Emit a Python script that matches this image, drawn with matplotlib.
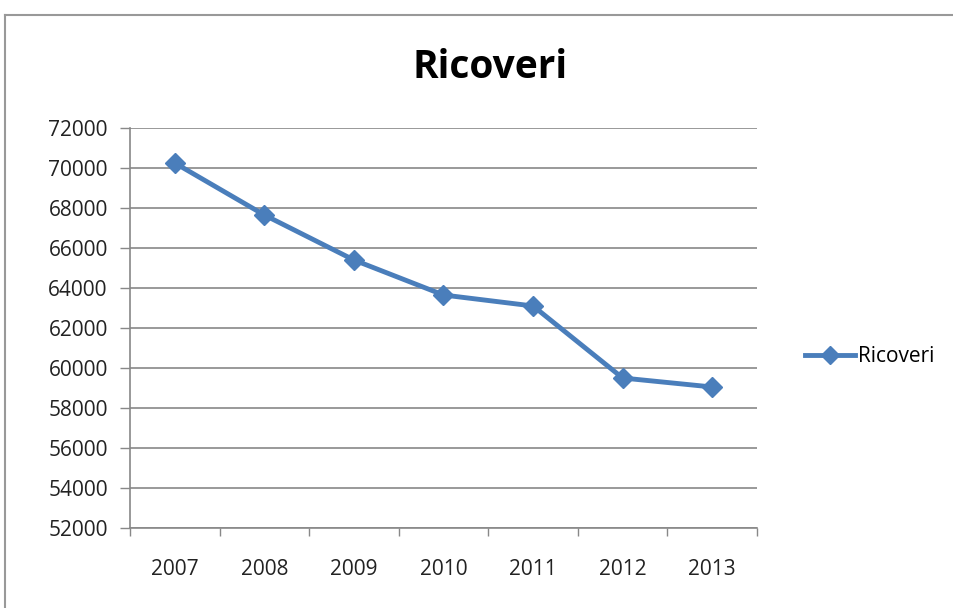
import numpy as np
import matplotlib.pyplot as plt
from matplotlib.lines import Line2D

# data
years = ['2007', '2008', '2009', '2010', '2011', '2012', '2013']
ricoveri = [70250, 67650, 65400, 63650, 63100, 59500, 59050]
yTicks = [52000, 54000, 56000, 58000, 60000, 62000, 64000, 66000, 68000, 70000, 72000]

lineColor = '#4A7EBB'
gridColor = '#888888'

plt.rcParams['font.family'] = ['Open Sans', 'DejaVu Sans']

fig = plt.figure(figsize=(9.54, 6.08), dpi=100)
ax = fig.add_axes([130 / 954, 1 - 528 / 608, (757 - 130) / 954, (528 - 128) / 608])

x = np.arange(len(years))
ax.plot(x, ricoveri, color=lineColor, linewidth=3.5, marker='D', markersize=10,
        label='Ricoveri', zorder=3)

ax.set_xlim(-0.5, len(years) - 0.5)
ax.set_ylim(yTicks[0], yTicks[-1])
ax.set_yticks(yTicks)
ax.set_yticklabels([str(v) for v in yTicks], fontsize=15, color='#222222')
ax.grid(axis='y', color=gridColor, linewidth=1.2)
ax.set_axisbelow(True)

# category labels in the middle, tick marks at the boundaries
ax.set_xticks(x)
ax.set_xticklabels(years, fontsize=15, color='#222222')
ax.tick_params(axis='x', length=0, pad=22)
ax.set_xticks(np.arange(len(years) + 1) - 0.5, minor=True)
ax.tick_params(axis='x', which='minor', length=6, color=gridColor, width=1)
ax.tick_params(axis='y', length=7, color=gridColor, width=1, pad=9)

for side in ['top', 'right']:
    ax.spines[side].set_visible(False)
for side in ['left', 'bottom']:
    ax.spines[side].set_color(gridColor)
    ax.spines[side].set_linewidth(1.2)

fig.text(490 / 954, 1 - 68 / 608, 'Ricoveri', fontsize=28, fontweight='bold',
         ha='center', va='center', color='black')

fig.legend(loc='center left', bbox_to_anchor=(786 / 954, 1 - 357 / 608), frameon=False,
           fontsize=15, handlelength=2.4, handletextpad=0.15, markerscale=0.9)

# outer chart border (only top and left visible in the crop)
fig.add_artist(Line2D([5 / 954, 1], [1 - 15 / 608, 1 - 15 / 608], color='#999999', linewidth=1.5))
fig.add_artist(Line2D([5 / 954, 5 / 954], [0, 1 - 15 / 608], color='#999999', linewidth=1.5))

fig.savefig('out.png', dpi=100)
